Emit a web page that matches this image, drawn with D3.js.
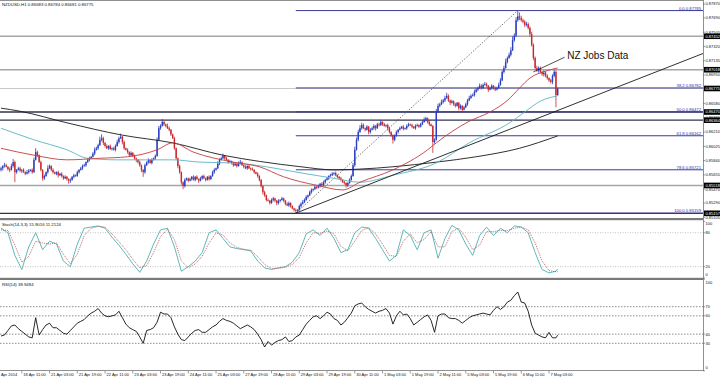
<!DOCTYPE html>
<html>
<head>
<meta charset="utf-8">
<script src="https://cdn.jsdelivr.net/npm/d3@7"></script>
<style>
  body { margin: 0; background: #fff; }
  svg { display: block; font-family: "Liberation Sans", Arial, sans-serif; }
</style>
</head>
<body>
<div id="chart"></div>
<script>
// ---- data ----
const symbolTitle = "NZDUSD,H1  0.86683 0.86784 0.86681 0.86775";
const firstOpen = 0.8572;

// hourly closes, one row = 16 bars (one time label)
const closes = [
  0.8574,0.8577,0.8578,0.8576,0.8573,0.8572,0.8577,0.8582,0.8569,0.8572,0.8574,0.8571,0.8572,0.8569,0.8567,0.8569,
  0.8571,0.8572,0.8569,0.8585,0.8595,0.8591,0.8582,0.8572,0.8561,0.8564,0.8569,0.8574,0.8577,0.8572,0.8569,0.8567,
  0.8569,0.8565,0.8567,0.8564,0.8561,0.8563,0.8560,0.8558,0.8559,0.8563,0.8565,0.8564,0.8569,0.8572,0.8574,0.8577,
  0.8578,0.8582,0.8585,0.8587,0.8589,0.8593,0.8598,0.8600,0.8604,0.8611,0.8613,0.8607,0.8603,0.8600,0.8603,0.8599,
  0.8600,0.8598,0.8603,0.8608,0.8613,0.8615,0.8608,0.8600,0.8598,0.8595,0.8591,0.8594,0.8590,0.8587,0.8585,0.8582,
  0.8578,0.8572,0.8569,0.8578,0.8582,0.8585,0.8581,0.8585,0.8587,0.8590,0.8611,0.8626,0.8629,0.8634,0.8631,0.8629,
  0.8626,0.8624,0.8618,0.8613,0.8600,0.8587,0.8577,0.8569,0.8556,0.8551,0.8559,0.8561,0.8558,0.8560,0.8563,0.8559,
  0.8563,0.8560,0.8558,0.8561,0.8564,0.8561,0.8559,0.8563,0.8560,0.8564,0.8569,0.8572,0.8574,0.8580,0.8585,0.8587,
  0.8590,0.8587,0.8585,0.8582,0.8583,0.8581,0.8578,0.8580,0.8577,0.8581,0.8582,0.8578,0.8576,0.8574,0.8577,0.8574,
  0.8573,0.8572,0.8569,0.8567,0.8564,0.8559,0.8551,0.8543,0.8539,0.8533,0.8532,0.8529,0.8533,0.8535,0.8532,0.8529,
  0.8532,0.8533,0.8535,0.8532,0.8528,0.8526,0.8529,0.8525,0.8522,0.8520,0.8519,0.8520,0.8525,0.8528,0.8530,0.8533,
  0.8537,0.8539,0.8543,0.8546,0.8547,0.8550,0.8549,0.8551,0.8554,0.8552,0.8556,0.8559,0.8561,0.8564,0.8565,0.8567,
  0.8568,0.8565,0.8563,0.8561,0.8559,0.8556,0.8555,0.8552,0.8555,0.8559,0.8564,0.8578,0.8598,0.8611,0.8621,0.8626,
  0.8630,0.8626,0.8624,0.8628,0.8621,0.8624,0.8626,0.8629,0.8626,0.8631,0.8630,0.8634,0.8631,0.8629,0.8630,0.8626,
  0.8621,0.8617,0.8611,0.8616,0.8621,0.8624,0.8626,0.8628,0.8625,0.8626,0.8629,0.8631,0.8630,0.8628,0.8626,0.8629,
  0.8630,0.8628,0.8631,0.8634,0.8637,0.8639,0.8634,0.8631,0.8629,0.8608,0.8611,0.8647,0.8655,0.8657,0.8660,0.8662,
  0.8665,0.8668,0.8662,0.8659,0.8661,0.8657,0.8655,0.8659,0.8652,0.8655,0.8650,0.8653,0.8657,0.8662,0.8665,0.8668,
  0.8669,0.8673,0.8676,0.8678,0.8681,0.8678,0.8682,0.8683,0.8681,0.8676,0.8678,0.8681,0.8678,0.8676,0.8678,0.8682,
  0.8688,0.8699,0.8704,0.8712,0.8717,0.8721,0.8727,0.8740,0.8746,0.8766,0.8771,0.8769,0.8766,0.8764,0.8760,0.8761,
  0.8756,0.8748,0.8734,0.8717,0.8704,0.8701,0.8704,0.8699,0.8696,0.8698,0.8694,0.8691,0.8688,0.8686,0.8694,0.8699,
  0.8669,0.86775
];
// wick lengths in pips above / below the body
const upperWick = [
  2,1,3,2,1,2,3,4,2,1,2,2,1,2,1,3,
  2,1,2,3,5,2,1,2,1,2,1,4,2,1,2,1,
  1,2,1,2,1,2,1,1,2,1,2,1,2,1,2,2,
  2,1,2,2,1,2,3,2,2,4,5,2,1,2,1,2,
  1,2,2,3,2,4,1,2,1,2,1,2,1,2,1,1,
  2,1,1,2,1,2,1,2,1,2,3,3,2,4,2,1,
  3,2,1,1,2,1,1,2,1,1,2,1,1,2,1,2,
  1,2,1,2,1,2,1,1,2,1,2,2,1,3,2,2,
  3,1,2,1,2,1,1,2,1,2,3,1,1,2,1,2,
  1,2,1,1,2,1,1,1,2,1,2,1,2,2,1,1,
  2,1,2,1,1,2,2,1,1,1,2,1,2,2,3,2,
  2,1,2,2,1,2,1,2,1,2,2,1,2,1,2,2,
  1,2,1,1,2,1,2,1,1,2,2,3,4,3,3,4,
  3,2,1,2,1,2,2,2,1,2,2,3,1,2,1,2,
  2,1,1,2,2,1,2,1,2,1,2,2,1,2,1,2,
  2,1,2,2,3,2,1,2,1,1,2,4,3,2,3,2,
  3,4,2,1,2,1,2,1,1,2,1,2,2,2,3,2,
  2,3,2,2,3,2,2,3,2,1,2,2,1,2,2,3,
  3,2,3,4,2,3,4,5,3,4,7,5,3,2,2,3,
  2,2,3,2,2,3,2,2,1,3,2,2,1,2,2,3,
  2,1
];
const lowerWick = [
  2,3,2,1,2,3,1,2,13,2,1,2,3,1,2,1,
  2,1,2,1,1,2,1,2,3,2,1,2,1,2,2,1,
  2,3,1,2,2,1,2,4,3,1,2,1,1,2,1,2,
  1,2,1,2,1,1,2,1,2,1,2,3,2,1,2,1,
  2,1,2,1,2,1,3,2,1,2,1,2,1,2,3,2,
  2,3,6,2,1,2,1,2,1,2,1,1,2,1,2,2,
  1,2,2,1,2,2,3,2,3,4,2,1,2,1,2,1,
  2,1,3,1,2,1,2,1,2,1,1,2,1,1,2,1,
  1,2,1,2,1,2,2,1,2,1,2,1,2,1,2,1,
  2,1,2,1,2,2,2,3,2,2,1,2,1,2,2,3,
  2,2,1,2,2,1,2,2,1,2,3,2,1,2,1,1,
  1,2,1,2,2,1,2,1,2,2,1,2,1,2,1,1,
  2,1,2,1,2,1,2,3,2,1,1,1,2,1,2,1,
  2,1,2,1,3,2,1,2,3,1,2,1,2,1,2,3,
  2,2,5,2,1,2,1,1,2,1,2,1,1,2,1,2,
  1,2,1,1,1,2,2,2,1,14,2,1,1,2,1,2,
  2,1,2,3,1,2,2,1,3,2,2,1,1,2,1,1,
  1,2,1,2,1,2,1,1,2,3,1,2,2,2,1,1,
  1,1,2,1,2,1,2,1,2,2,2,3,2,2,3,2,
  2,3,2,3,2,2,3,2,2,3,2,2,2,2,3,2,
  16,1
];

// moving averages, read at the listed bars
const maRedBars = [0, 19, 38, 57, 73, 90, 99, 111, 134, 149, 163, 182, 197, 207, 226, 246, 251, 270, 282, 292, 299, 305, 314, 321];
const maRed = [0.8600,0.8591,0.8585,0.8587,0.8589,0.8598,0.8607,0.8595,0.8582,0.8576,0.8563,0.8552,0.8546,0.8556,0.8572,0.8598,0.8607,0.8635,0.8647,0.8662,0.8678,0.8691,0.8700,0.8704];
const maTealBars = [0, 19, 38, 50, 67, 86, 99, 115, 134, 153, 173, 192, 207, 226, 251, 270, 294, 302, 311, 321];
const maTeal = [0.8626,0.8611,0.8598,0.8587,0.8585,0.8585,0.8585,0.8582,0.8581,0.8576,0.8568,0.8561,0.8556,0.8565,0.8581,0.8607,0.8634,0.8647,0.8661,0.8668];
const maBlackBars = [0, 11, 38, 70, 99, 128, 149, 173, 192, 207, 226, 251, 274, 299, 321];
const maBlack = [0.8652,0.8648,0.8633,0.8617,0.8607,0.8591,0.8583,0.8576,0.8572,0.8573,0.8576,0.8582,0.8589,0.8600,0.8616];

// fibonacci retracement from the swing low to the swing high
const fibLowBar = 170, fibLow = 0.85159;
const fibHighBar = 298, fibHigh = 0.87785;
const fibLevels = [0, 38.2, 50, 61.8, 78.6, 100];

// horizontal levels and trend line
const levelsGray = [0.87452, 0.87018, 0.85518];
const levelsDark = [0.86470, 0.86364, 0.85157];
const bidPrice = 0.86775;
const trendLine = [[170, 0.85159], [321, 0.8649]];
const noteText = "NZ Jobs Data";
const noteLine = [[307, 0.8699], [325, 0.8718]];
const notePos = [326.5, 0.8716];

const priceTicks = [0.87870,0.87690,0.87505,0.87320,0.87135,0.86950,0.86580,0.86395,0.86210,0.86025,0.85840,0.85655,0.85470,0.85290,0.85105];
const timeLabels = ["17 Apr 2014","18 Apr 11:00","21 Apr 03:00","21 Apr 19:00","22 Apr 11:00","23 Apr 03:00","23 Apr 19:00","24 Apr 11:00","25 Apr 03:00","27 Apr 19:00","28 Apr 11:00","29 Apr 03:00","29 Apr 19:00","30 Apr 11:00","1 May 03:00","1 May 19:00","2 May 11:00","5 May 03:00","5 May 19:00","6 May 11:00","7 May 03:00"];

// stochastic (every 4 bars) and RSI (every 2 bars)
const stochLabel = "Stoch(14,3,3) 15.9016 11.2124";
const stochMain = [88,80,40,15,55,80,50,65,60,30,20,60,88,90,92,88,72,58,42,25,10,30,60,85,88,55,12,20,30,45,80,85,70,55,52,50,48,30,18,15,18,20,28,45,78,85,75,88,70,45,50,80,90,88,70,50,30,40,85,75,50,80,85,35,70,93,85,60,40,75,90,75,88,80,92,90,80,45,15,9,12,15.9];
const stochSignal = [85,84,58,28,38,65,62,60,62,42,25,42,75,88,91,90,78,64,50,33,18,22,45,73,86,68,30,18,25,38,62,80,76,62,54,51,49,38,24,17,17,19,24,36,62,80,79,83,78,56,48,65,84,89,78,60,40,38,65,78,62,68,82,55,55,82,88,72,50,58,82,82,84,84,88,90,85,62,30,13,11,11.2];
const stochLevels = [20, 80];
const stochTicks = [100, 80, 20, 0];

const rsiLabel = "RSI(14) 38.9484";
const rsiValues = [
  38,39,44,49,50,46,43,40,37,36,58,39,45,50,52,47,47,44,41,40,
  44,48,52,54,56,60,63,65,68,63,60,59,60,61,65,58,51,47,45,43,
  37,30,44,45,47,53,64,62,62,58,48,40,34,33,37,41,44,45,42,42,
  45,48,50,54,57,55,54,52,49,46,48,50,48,45,40,34,26,32,28,31,
  33,34,37,32,33,37,39,45,51,55,59,60,57,60,64,62,57,55,50,53,
  58,63,71,73,74,70,67,65,63,65,66,68,63,51,60,65,61,62,57,50,
  53,56,59,61,55,42,60,62,62,58,57,57,55,52,55,58,60,61,62,63,
  62,61,66,70,67,70,75,77,82,86,75,74,65,50,41,39,37,36,42,36,
  36,38.9
];
const rsiLevels = [70, 60, 40, 30];
const rsiTicks = [100, 70, 60, 40, 30, 0];

// ---- drawing ----
const W = 720, H = 378;
const axisX = 703;
const lastBar = closes.length - 1;
const pip = 0.0001;
const bullColor = "#2a3cbf";
const bearColor = "#c8282d";
const labelSize = 4.0;

const svg = d3.select("#chart").append("svg").attr("width", W).attr("height", H);
svg.append("rect").attr("width", W).attr("height", H).attr("fill", "#fff");

const x = d3.scaleLinear().domain([0, 404.8]).range([1, axisX]);
const y = d3.scaleLinear().domain([0.85096, 0.87922]).range([218, 0]);
const yStoch = d3.scaleLinear().domain([0, 100]).range([278, 221.4]);
const yRsi = d3.scaleLinear().domain([0, 100]).range([370.8, 279.2]);

const defs = svg.append("defs");
function clip(id, y0, y1) {
  defs.append("clipPath").attr("id", id).append("rect")
    .attr("x", 0).attr("y", y0).attr("width", axisX).attr("height", y1 - y0);
}
clip("clipMain", 0, 218);
clip("clipStoch", 220, 278);
clip("clipRsi", 280, 371);

const main = svg.append("g").attr("clip-path", "url(#clipMain)");

// bid line
main.append("line").attr("x1", 0).attr("x2", axisX)
  .attr("y1", y(bidPrice)).attr("y2", y(bidPrice))
  .attr("stroke", "#c8c8c8").attr("stroke-width", 1);

// horizontal levels
main.selectAll("line.lvlGray").data(levelsGray).join("line")
  .attr("x1", 0).attr("x2", axisX).attr("y1", d => y(d)).attr("y2", d => y(d))
  .attr("stroke", "#a6a6a6").attr("stroke-width", 1.6);
main.selectAll("line.lvlDark").data(levelsDark).join("line")
  .attr("x1", 0).attr("x2", axisX).attr("y1", d => y(d)).attr("y2", d => y(d))
  .attr("stroke", "#33334d").attr("stroke-width", 1.3);

// fibonacci levels
const fibPrice = lvl => fibHigh - lvl / 100 * (fibHigh - fibLow);
main.selectAll("line.fib").data(fibLevels).join("line")
  .attr("x1", x(fibLowBar)).attr("x2", axisX)
  .attr("y1", d => y(fibPrice(d))).attr("y2", d => y(fibPrice(d)))
  .attr("stroke", "#3a3a96").attr("stroke-width", 1);
main.selectAll("text.fib").data(fibLevels).join("text")
  .attr("x", axisX - 2).attr("y", d => y(fibPrice(d)) - 1)
  .attr("text-anchor", "end").attr("font-size", 4.2).attr("fill", "#2a2ab0")
  .text(d => d.toFixed(1) + " " + fibPrice(d).toFixed(5));

// fib diagonal
main.append("line")
  .attr("x1", x(fibLowBar)).attr("y1", y(fibLow))
  .attr("x2", x(fibHighBar)).attr("y2", y(fibHigh))
  .attr("stroke", "#555").attr("stroke-width", 0.8).attr("stroke-dasharray", "1.5,1.5");

// candles
const bars = closes.map((c, i) => {
  const o = i ? closes[i - 1] : firstOpen;
  return { i, o, c, h: Math.max(o, c) + upperWick[i] * pip, l: Math.min(o, c) - lowerWick[i] * pip };
});
const candleColor = d => d.c >= d.o ? bullColor : bearColor;
main.selectAll("line.wick").data(bars).join("line")
  .attr("x1", d => x(d.i)).attr("x2", d => x(d.i))
  .attr("y1", d => y(d.h)).attr("y2", d => y(d.l))
  .attr("stroke", candleColor).attr("stroke-width", 0.8);
main.selectAll("rect.body").data(bars).join("rect")
  .attr("x", d => x(d.i) - 0.7).attr("width", 1.4)
  .attr("y", d => y(Math.max(d.o, d.c)))
  .attr("height", d => Math.max(0.8, Math.abs(y(d.o) - y(d.c))))
  .attr("fill", candleColor);

// moving averages
function maLine(barsArr, vals, color, width) {
  const line = d3.line().x(d => x(d[0])).y(d => y(d[1])).curve(d3.curveMonotoneX);
  main.append("path").attr("d", line(barsArr.map((b, i) => [b, vals[i]])))
    .attr("fill", "none").attr("stroke", color).attr("stroke-width", width);
}
maLine(maBlackBars, maBlack, "#1a1a1a", 0.9);
maLine(maTealBars, maTeal, "#58b4c4", 0.9);
maLine(maRedBars, maRed, "#c43c3c", 0.9);

// trend line as a ray
const slope = (trendLine[1][1] - trendLine[0][1]) / (trendLine[1][0] - trendLine[0][0]);
const rayEnd = 404.8;
main.append("line")
  .attr("x1", x(trendLine[0][0])).attr("y1", y(trendLine[0][1]))
  .attr("x2", x(rayEnd)).attr("y2", y(trendLine[0][1] + slope * (rayEnd - trendLine[0][0])))
  .attr("stroke", "#1a1a1a").attr("stroke-width", 0.9);

// annotation
main.append("line")
  .attr("x1", x(noteLine[0][0])).attr("y1", y(noteLine[0][1]))
  .attr("x2", x(noteLine[1][0])).attr("y2", y(noteLine[1][1]))
  .attr("stroke", "#222").attr("stroke-width", 0.8);
main.append("text").attr("x", x(notePos[0])).attr("y", y(notePos[1]))
  .attr("font-size", 10).attr("fill", "#111").text(noteText);

// title
svg.append("text").attr("x", 2).attr("y", 5.5).attr("font-size", 4.3).attr("fill", "#111").text(symbolTitle);

// ---- stochastic ----
const stochG = svg.append("g").attr("clip-path", "url(#clipStoch)");
stochG.selectAll("line.lvl").data(stochLevels).join("line")
  .attr("x1", 0).attr("x2", axisX).attr("y1", d => yStoch(d)).attr("y2", d => yStoch(d))
  .attr("stroke", "#b4b4b4").attr("stroke-width", 0.8).attr("stroke-dasharray", "1,1.5");
const stochX = i => x(Math.min(i * 4, lastBar));
stochG.append("path").datum(stochMain)
  .attr("d", d3.line().x((d, i) => stochX(i)).y(d => yStoch(d)))
  .attr("fill", "none").attr("stroke", "#4fb0b0").attr("stroke-width", 0.9);
stochG.append("path").datum(stochSignal)
  .attr("d", d3.line().x((d, i) => stochX(i)).y(d => yStoch(d)))
  .attr("fill", "none").attr("stroke", "#b04848").attr("stroke-width", 0.8).attr("stroke-dasharray", "1,1");
svg.append("text").attr("x", 2).attr("y", 226).attr("font-size", 4.3).attr("fill", "#111").text(stochLabel);

// ---- RSI ----
const rsiG = svg.append("g").attr("clip-path", "url(#clipRsi)");
rsiG.selectAll("line.lvl").data(rsiLevels).join("line")
  .attr("x1", 0).attr("x2", axisX).attr("y1", d => yRsi(d)).attr("y2", d => yRsi(d))
  .attr("stroke", "#707070").attr("stroke-width", 0.8).attr("stroke-dasharray", "1.5,1.5");
rsiG.append("path").datum(rsiValues)
  .attr("d", d3.line().x((d, i) => x(Math.min(i * 2, lastBar))).y(d => yRsi(d)))
  .attr("fill", "none").attr("stroke", "#111").attr("stroke-width", 0.9);
svg.append("text").attr("x", 2).attr("y", 285.5).attr("font-size", 4.3).attr("fill", "#111").text(rsiLabel);

// ---- frame and separators ----
svg.append("line").attr("x1", 0).attr("x2", axisX).attr("y1", 0.5).attr("y2", 0.5).attr("stroke", "#909090");
svg.append("rect").attr("x", 0).attr("y", 218).attr("width", axisX).attr("height", 2.2).attr("fill", "#7a7a7a");
svg.append("rect").attr("x", 0).attr("y", 277.8).attr("width", axisX).attr("height", 2.2).attr("fill", "#7a7a7a");
svg.append("line").attr("x1", 0).attr("x2", axisX).attr("y1", 370.5).attr("y2", 370.5).attr("stroke", "#909090");
svg.append("line").attr("x1", axisX + 0.5).attr("x2", axisX + 0.5).attr("y1", 0).attr("y2", 371).attr("stroke", "#909090");

// ---- right axes ----
const axisG = svg.append("g").attr("font-size", labelSize).attr("fill", "#111");
function rightTicks(vals, scale, fmt, lo, hi) {
  vals.forEach(v => {
    const yy = scale(v);
    axisG.append("line").attr("x1", axisX).attr("x2", axisX + 2).attr("y1", yy).attr("y2", yy)
      .attr("stroke", "#707070").attr("stroke-width", 0.7);
    axisG.append("text").attr("x", axisX + 2.5).attr("y", Math.min(hi, Math.max(lo, yy)) + 1.4).text(fmt(v));
  });
}
rightTicks(priceTicks, y, v => v.toFixed(5), 4, 219.5);
rightTicks(stochTicks, yStoch, v => String(v), 224, 275);
rightTicks(rsiTicks, yRsi, v => String(v), 282.5, 368);

// price boxes
const boxes = levelsGray.concat(levelsDark, [bidPrice]);
boxes.forEach(v => {
  const yy = y(v);
  axisG.append("rect").attr("x", axisX + 1).attr("y", yy - 2.8).attr("width", W - axisX - 1).attr("height", 5.6).attr("fill", "#000");
  axisG.append("text").attr("x", axisX + 2.5).attr("y", yy + 1.4).attr("fill", "#fff").text(v.toFixed(5));
});

// ---- time axis ----
const timeG = svg.append("g").attr("font-size", labelSize).attr("fill", "#111");
timeLabels.forEach((t, i) => {
  const xx = x(-4 + 16 * i);
  timeG.append("line").attr("x1", xx).attr("x2", xx).attr("y1", 371).attr("y2", 373.5)
    .attr("stroke", "#707070").attr("stroke-width", 0.7);
  timeG.append("text").attr("x", xx + 1.5).attr("y", 376.3).text(t);
});
</script>
</body>
</html>
